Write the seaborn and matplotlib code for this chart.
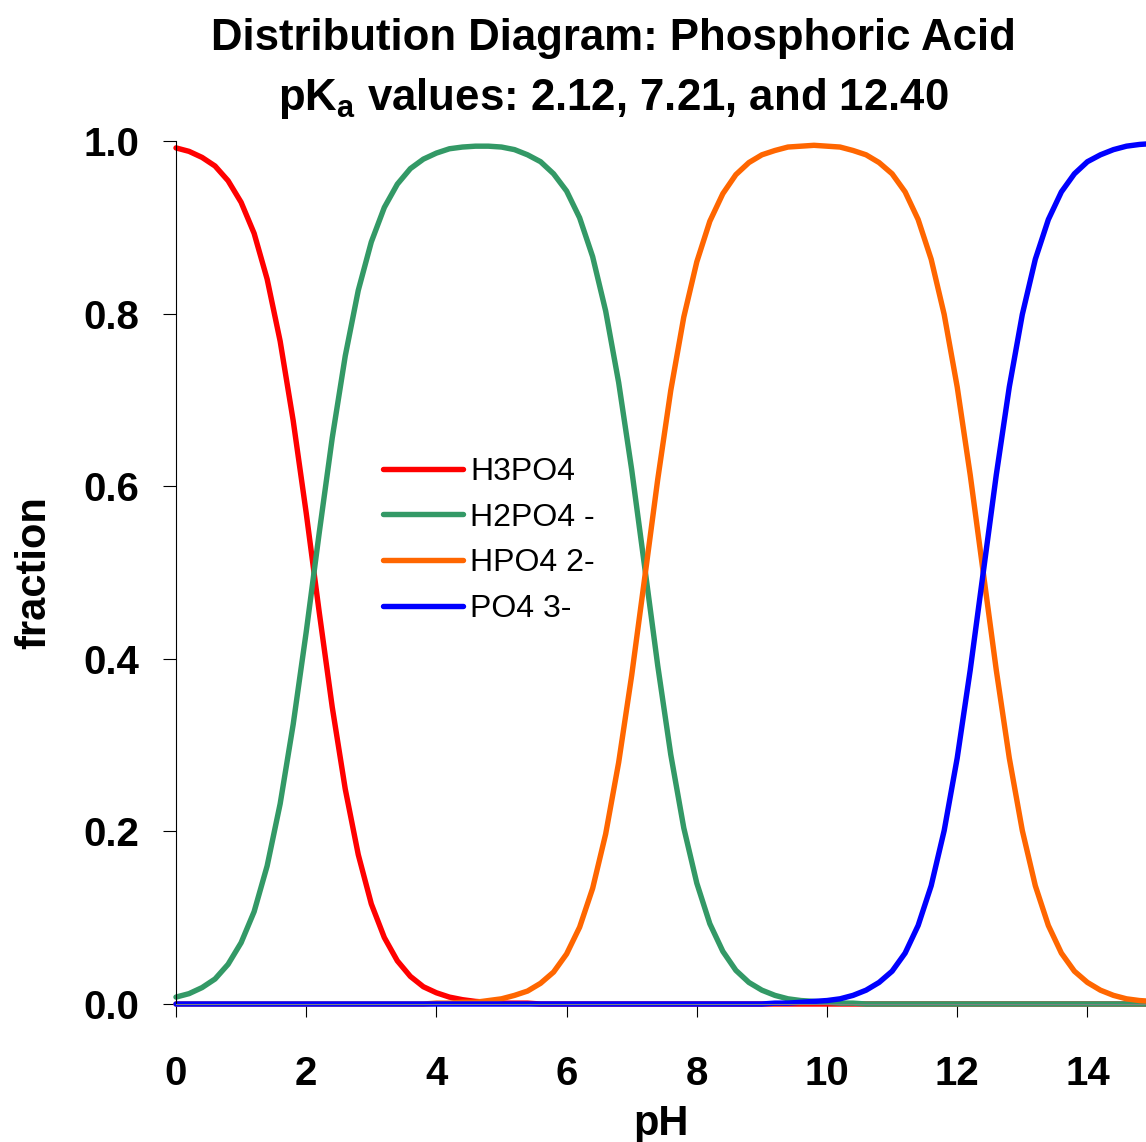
import matplotlib
matplotlib.use("Agg")
import matplotlib.pyplot as plt
import seaborn as sns
import pandas as pd

# ---------------- data ----------------
ph = [0.0, 0.2, 0.4, 0.6, 0.8, 1.0, 1.2, 1.4, 1.6, 1.8,
      2.0, 2.2, 2.4, 2.6, 2.8, 3.0, 3.2, 3.4, 3.6, 3.8,
      4.0, 4.2, 4.4, 4.6, 4.8, 5.0, 5.2, 5.4, 5.6, 5.8,
      6.0, 6.2, 6.4, 6.6, 6.8, 7.0, 7.2, 7.4, 7.6, 7.8,
      8.0, 8.2, 8.4, 8.6, 8.8, 9.0, 9.2, 9.4, 9.6, 9.8,
      10.0, 10.2, 10.4, 10.6, 10.8, 11.0, 11.2, 11.4, 11.6, 11.8,
      12.0, 12.2, 12.4, 12.6, 12.8, 13.0, 13.2, 13.4, 13.6, 13.8,
      14.0, 14.2, 14.4, 14.6, 14.8, 15.0]

h3po4 = [0.992, 0.988, 0.981, 0.971, 0.954, 0.929, 0.893, 0.840, 0.768, 0.676,
         0.569, 0.454, 0.344, 0.249, 0.173, 0.116, 0.077, 0.050, 0.032, 0.020,
         0.013, 0.008, 0.005, 0.003, 0.002, 0.001, 0.001, 0.001, 0.000, 0.000,
         0.000, 0.000, 0.000, 0.000, 0.000, 0.000, 0.000, 0.000, 0.000, 0.000,
         0.000, 0.000, 0.000, 0.000, 0.000, 0.000, 0.000, 0.000, 0.000, 0.000,
         0.000, 0.000, 0.000, 0.000, 0.000, 0.000, 0.000, 0.000, 0.000, 0.000,
         0.000, 0.000, 0.000, 0.000, 0.000, 0.000, 0.000, 0.000, 0.000, 0.000,
         0.000, 0.000, 0.000, 0.000, 0.000, 0.000]

h2po4 = [0.008, 0.012, 0.019, 0.029, 0.046, 0.071, 0.107, 0.160, 0.232, 0.324,
         0.431, 0.546, 0.656, 0.751, 0.827, 0.883, 0.923, 0.950, 0.968, 0.979,
         0.986, 0.991, 0.993, 0.994, 0.994, 0.993, 0.990, 0.984, 0.976, 0.962,
         0.942, 0.911, 0.866, 0.803, 0.720, 0.619, 0.506, 0.392, 0.289, 0.204,
         0.140, 0.093, 0.061, 0.039, 0.025, 0.016, 0.010, 0.006, 0.004, 0.003,
         0.002, 0.001, 0.001, 0.000, 0.000, 0.000, 0.000, 0.000, 0.000, 0.000,
         0.000, 0.000, 0.000, 0.000, 0.000, 0.000, 0.000, 0.000, 0.000, 0.000,
         0.000, 0.000, 0.000, 0.000, 0.000, 0.000]

hpo4 = [0.000, 0.000, 0.000, 0.000, 0.000, 0.000, 0.000, 0.000, 0.000, 0.000,
        0.000, 0.000, 0.000, 0.000, 0.000, 0.000, 0.000, 0.000, 0.000, 0.000,
        0.001, 0.001, 0.002, 0.002, 0.004, 0.006, 0.010, 0.015, 0.024, 0.037,
        0.058, 0.089, 0.134, 0.197, 0.280, 0.381, 0.494, 0.608, 0.711, 0.796,
        0.860, 0.907, 0.939, 0.961, 0.975, 0.984, 0.989, 0.993, 0.994, 0.995,
        0.994, 0.993, 0.989, 0.984, 0.975, 0.962, 0.941, 0.909, 0.863, 0.799,
        0.715, 0.613, 0.500, 0.387, 0.285, 0.201, 0.137, 0.091, 0.059, 0.038,
        0.025, 0.016, 0.010, 0.006, 0.004, 0.003]

po4 = [0.000, 0.000, 0.000, 0.000, 0.000, 0.000, 0.000, 0.000, 0.000, 0.000,
       0.000, 0.000, 0.000, 0.000, 0.000, 0.000, 0.000, 0.000, 0.000, 0.000,
       0.000, 0.000, 0.000, 0.000, 0.000, 0.000, 0.000, 0.000, 0.000, 0.000,
       0.000, 0.000, 0.000, 0.000, 0.000, 0.000, 0.000, 0.000, 0.000, 0.000,
       0.000, 0.000, 0.000, 0.000, 0.000, 0.000, 0.001, 0.001, 0.002, 0.003,
       0.004, 0.006, 0.010, 0.016, 0.025, 0.038, 0.059, 0.091, 0.137, 0.201,
       0.285, 0.387, 0.500, 0.613, 0.715, 0.799, 0.863, 0.909, 0.941, 0.962,
       0.976, 0.984, 0.990, 0.994, 0.996, 0.997]

species = ["H3PO4", "H2PO4 -", "HPO4 2-", "PO4 3-"]
colors = ["#FF0000", "#339966", "#FF6600", "#0000FF"]

x_ticks = [0, 2, 4, 6, 8, 10, 12, 14]
y_ticks = [0.0, 0.2, 0.4, 0.6, 0.8, 1.0]
y_tick_labels = ["0.0", "0.2", "0.4", "0.6", "0.8", "1.0"]

title_line1 = "Distribution Diagram: Phosphoric Acid"
title_line2 = r"pK$_\mathregular{a}$ values: 2.12, 7.21, and 12.40"

# ---------------- build long-form table ----------------
series = {species[0]: h3po4, species[1]: h2po4, species[2]: hpo4, species[3]: po4}
frames = [pd.DataFrame({"pH": ph, "fraction": vals, "species": name})
          for name, vals in series.items()]
df = pd.concat(frames, ignore_index=True)

# ---------------- style ----------------
sns.set_theme(style="white")
plt.rcParams['font.family'] = ['Liberation Sans', 'DejaVu Sans']
plt.rcParams['mathtext.fontset'] = 'custom'
plt.rcParams['mathtext.rm'] = 'Liberation Sans:bold'
plt.rcParams['text.color'] = 'black'

W, H = 1146, 1142
fig = plt.figure(figsize=(W / 100, H / 100), dpi=100)
ax_l, ax_r, ax_t, ax_b = 176, 1146, 141, 1004
ax = fig.add_axes([ax_l / W, 1 - ax_b / H, (ax_r - ax_l) / W, (ax_b - ax_t) / H])

LW = 3.9
sns.lineplot(data=df, x="pH", y="fraction", hue="species", hue_order=species,
             palette=colors, linewidth=LW, estimator=None, sort=False, ax=ax)
for ln in ax.lines:
    ln.set_clip_on(False)
    ln.set_solid_joinstyle('round')

ax.set_xlim(0, 14.9)
ax.set_ylim(0, 1.0)
ax.set_xticks(x_ticks)
ax.set_xticklabels([str(t) for t in x_ticks])
ax.set_yticks(y_ticks)
ax.set_yticklabels(y_tick_labels)

ax.tick_params(axis='both', which='major', direction='out', length=9.4, width=0.8,
               color='black', labelsize=29, labelcolor='black',
               bottom=True, left=True, top=False, right=False)
ax.tick_params(axis='x', pad=27)
ax.tick_params(axis='y', pad=17)
for lab in ax.get_xticklabels() + ax.get_yticklabels():
    lab.set_fontweight('bold')

for s in ['top', 'right']:
    ax.spines[s].set_visible(False)
ax.spines['left'].set_color('black')
ax.spines['left'].set_linewidth(0.8)
ax.spines['bottom'].set_color('#808080')
ax.spines['bottom'].set_linewidth(0.8)

ax.set_xlabel("pH", fontsize=30, fontweight='bold', color='black')
ax.set_ylabel("fraction", fontsize=30, fontweight='bold', color='black')
ax.xaxis.label.set_va('baseline')
ax.xaxis.set_label_coords(0.5, (ax_b - 1135) / (ax_b - ax_t))
ax.yaxis.label.set_va('baseline')
ax.yaxis.set_label_coords((45 - ax_l) / (ax_r - ax_l), 0.5)

handles, labels = ax.get_legend_handles_labels()
ax.legend(handles, labels, loc='upper left',
          bbox_to_anchor=(383 / W, 1 - 457 / H), bbox_transform=fig.transFigure,
          frameon=False, fontsize=23, handlelength=2.5, handletextpad=0.22,
          labelspacing=0.49, borderpad=0, borderaxespad=0, labelcolor='black')
for ln in ax.get_legend().get_lines():
    ln.set_linewidth(LW)

fig.text(613 / W, 1 - 50 / H, title_line1, ha='center', va='baseline',
         fontsize=31.5, fontweight='bold', color='black')
fig.text(613 / W, 1 - 110 / H, title_line2, ha='center', va='baseline',
         fontsize=31.5, fontweight='bold', color='black')

fig.savefig("out.png", dpi=100)
